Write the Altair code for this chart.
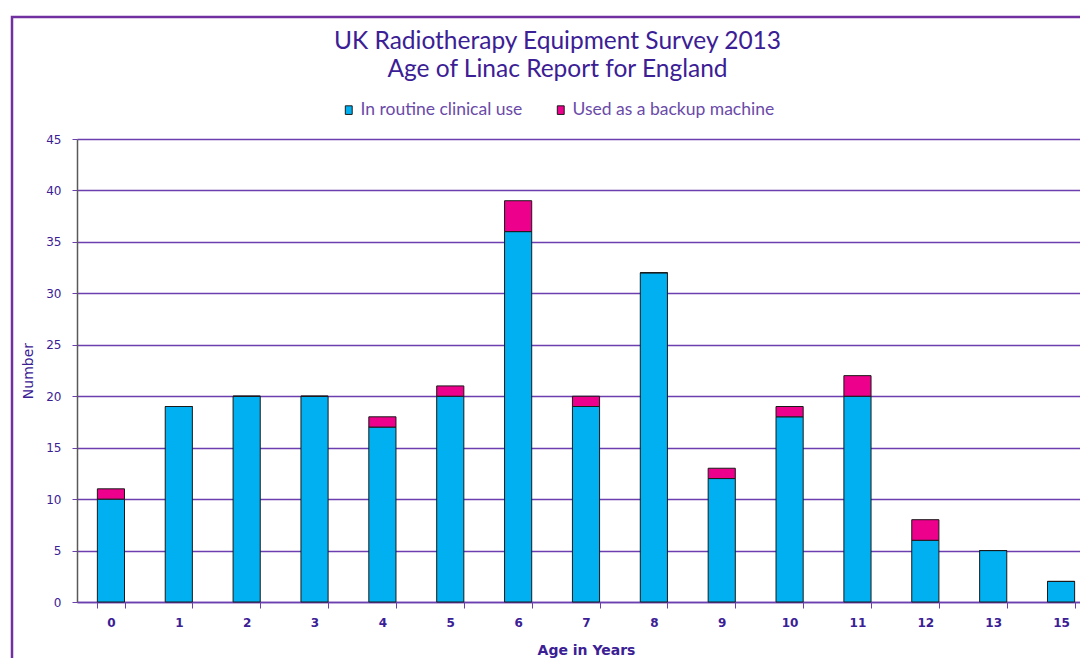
import altair as alt
import pandas as pd

ages = ["0", "1", "2", "3", "4", "5", "6", "7", "8", "9", "10", "11", "12", "13", "15"]
routine = [10, 19, 20, 20, 17, 20, 36, 19, 32, 12, 18, 20, 6, 5, 2]
backup = [1, 0, 0, 0, 1, 1, 3, 1, 0, 1, 1, 2, 2, 0, 0]
series = ["In routine clinical use", "Used as a backup machine"]
colors = ["#00B0F0", "#EC008C"]

rows = []
for a, r, b in zip(ages, routine, backup):
    rows.append({"age": a, "series": series[0], "value": r, "ord": 0})
    rows.append({"age": a, "series": series[1], "value": b, "ord": 1})
df = pd.DataFrame(rows)

TXT = "#3B2095"
GRID = "#6C3FB0"

bars = alt.Chart(df).mark_bar(stroke="#1a1a1a", strokeWidth=1).encode(
    x=alt.X("age:N", sort=ages,
            scale=alt.Scale(range=[0, 1018], paddingInner=0.6, paddingOuter=0.3),
            axis=alt.Axis(title="Age in Years", labelAngle=0, tickBand="extent",
                          labelFont="DejaVu Sans", labelFontSize=12, labelFontWeight="bold",
                          labelColor=TXT, labelPadding=9, tickSize=6, tickColor=GRID,
                          domainColor=GRID, domainWidth=1.5,
                          titleFont="DejaVu Sans", titleFontSize=14, titleFontWeight="bold",
                          titleColor=TXT, titlePadding=15, grid=False)),
    y=alt.Y("value:Q", stack="zero",
            scale=alt.Scale(domain=[0, 45], nice=False),
            axis=alt.Axis(title="Number", values=list(range(0, 46, 5)),
                          labelFont="DejaVu Sans", labelFontSize=12, labelColor=TXT,
                          labelPadding=11, tickSize=5, tickColor=GRID,
                          domainColor="#595959", domainWidth=1.5,
                          titleFont="DejaVu Sans", titleFontSize=14, titleFontWeight="normal",
                          titleColor=TXT, titlePadding=10,
                          grid=True, gridColor=GRID, gridWidth=1.3)),
    color=alt.Color("series:N", sort=series,
                    scale=alt.Scale(domain=series, range=colors),
                    legend=alt.Legend(title=None, orient="none", direction="horizontal",
                                      legendX=263, legendY=-38, padding=0,
                                      symbolType="M-0.5,-0.625H0.5V0.625H-0.5Z",
                                      symbolSize=190, symbolStrokeColor="#1a1a1a",
                                      symbolStrokeWidth=1, symbolOpacity=1,
                                      labelFont="Lato", labelFontSize=17.5, labelColor="#6A4AA8",
                                      labelOffset=3, labelLimit=400, columnPadding=29)),
    order=alt.Order("ord:Q", sort="ascending"),
)

frame = alt.Chart(alt.Data(values=[{}])).mark_rect(
    fill="white", fillOpacity=0, stroke="#7030A0", strokeWidth=2.5
).encode(
    x=alt.value(-65), x2=alt.value(1200), y=alt.value(-122), y2=alt.value(800)
)

chart = alt.layer(bars, frame).properties(
    width=1003, height=463,
    autosize=alt.AutoSizeParams(type="none"),
    padding={"left": 69, "top": 131, "right": 0, "bottom": 56},
    title=alt.TitleParams(
        ["UK Radiotherapy Equipment Survey 2013", "Age of Linac Report for England"],
        font="Lato", fontSize=24.5, fontWeight="normal", color=TXT,
        anchor="middle", dx=-21, offset=-67, lineHeight=28),
).configure_view(stroke=None).configure_axis(grid=False)

chart.save("out.html", embed_options={"renderer": "svg", "actions": False})
